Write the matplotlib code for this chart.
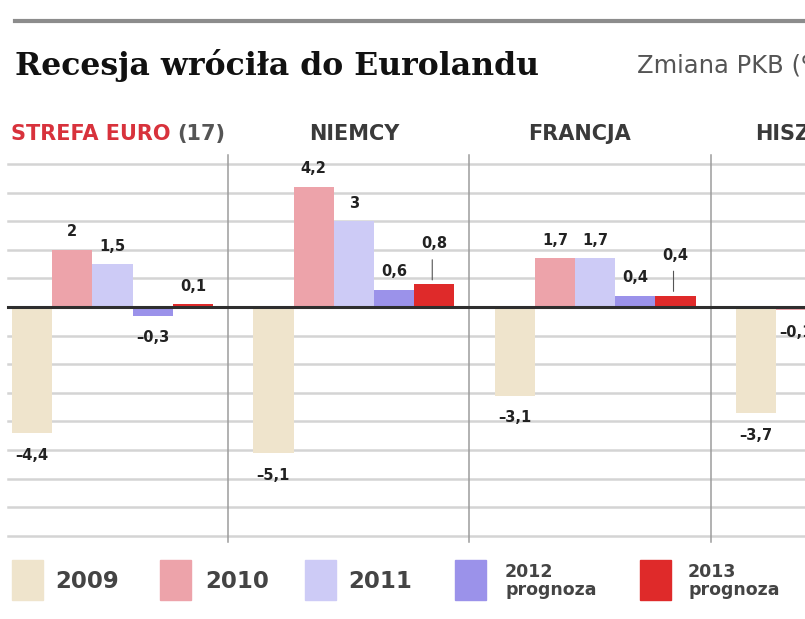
import matplotlib.pyplot as plt
import numpy as np
from matplotlib.patches import Rectangle

# data: GDP change, %, by year, for each panel
panels = ['STREFA EURO', 'NIEMCY', 'FRANCJA', 'HISZPANIA']
years = ['2009', '2010', '2011', '2012\nprognoza', '2013\nprognoza']
strefa_euro = [-4.4, 2.0, 1.5, -0.3, 0.1]
niemcy = [-5.1, 4.2, 3.0, 0.6, 0.8]
francja = [-3.1, 1.7, 1.7, 0.4, 0.4]
hiszpania = [-3.7, -0.1, np.nan, np.nan, np.nan]
values = [strefa_euro, niemcy, francja, hiszpania]

colors = ['#efe4cc', '#eda3aa', '#cdcbf6', '#9b92ea', '#df2a2a']

fig = plt.figure(figsize=(8.05, 6.19), dpi=100)
W, H = 805, 619

# header
fig.add_artist(plt.Line2D([15 / W, 1], [1 - 21 / H] * 2, color='#8c8c8c', lw=3))
fig.text(15 / W, 1 - 65 / H, 'Recesja wróciła do Eurolandu', family='DejaVu Serif',
         weight='bold', fontsize=22.7, va='center', ha='left', color='#111111')
fig.text(637 / W, 1 - 65 / H, 'Zmiana PKB (%)', fontsize=17.5, va='center', ha='left',
         color='#555555')

ax = fig.add_axes([0, (H - 545) / H, 1, (545 - 150) / H])
ax.set_xlim(-0.3, 19.72)
ax.set_ylim(-8.32, 5.49)
ax.axis('off')

for g in range(-8, 6):
    if g != 0:
        ax.plot([-0.1, 20], [g, g], color='#d4d4d4', lw=1.8, zorder=1)
for i in range(len(panels)):
    ax.plot([6 * i + 5.37] * 2, [-8.2, 5.3], color='#9c9c9c', lw=1.1, zorder=1)

for i, vals in enumerate(values):
    for j, v in enumerate(vals):
        if np.isnan(v):
            continue
        x = 6 * i + j
        ax.bar(x, v, width=1.0, align='edge', color=colors[j], zorder=2)
        lab = f'{v:.1f}'.replace('.', ',') if v != int(v) else f'{int(v)}'
        lab = lab.replace('-', '–')
        if j == 4 and i in (1, 2):
            ax.annotate(lab, (x + 0.5, v), xytext=(0, 29), textcoords='offset points',
                        ha='center', va='center', fontsize=10.5, weight='bold', color='#222222')
            ax.annotate('', (x + 0.45, v + 0.05), xytext=(x + 0.45, v + 0.95),
                        arrowprops=dict(arrowstyle='-', color='#555555', lw=0.8))
        else:
            off = 13 if v >= 0 else -16
            ax.annotate(lab, (x + 0.5, v), xytext=(0, off), textcoords='offset points',
                        ha='center', va='center', fontsize=10.5, weight='bold', color='#222222')

ax.plot([-0.1, 20], [0, 0], color='#2e2e2e', lw=2.2, zorder=3)

# panel titles
ty = 5.49 + (150 - 134) / 28.6
ax.text(3.95, ty, 'STREFA EURO', ha='right', va='center', fontsize=15,
        weight='bold', color='#d8323c')
ax.text(4.11, ty, '(17)', ha='left', va='center', fontsize=15,
        weight='bold', color='#555555')
title_shift = [0, 2.5, 2.12, 2.05]
for i in range(1, len(panels)):
    ax.text(6 * i + title_shift[i], ty, panels[i], ha='center', va='center', fontsize=15,
            weight='bold', color='#3a3a3a', clip_on=False)

# legend
sw_x = [12, 160, 305, 455, 640]
tx_x = [55, 205, 348, 505, 688]
for k in range(5):
    fig.add_artist(Rectangle((sw_x[k] / W, 1 - 600 / H), 31 / W, 40 / H,
                             color=colors[k], transform=fig.transFigure))
    if '\n' in years[k]:
        fig.text(tx_x[k] / W, 1 - 581 / H, years[k], fontsize=12.5, va='center',
                 ha='left', color='#444444', weight='bold', linespacing=0.95)
    else:
        fig.text(tx_x[k] / W, 1 - 582 / H, years[k], fontsize=16.5, va='center',
                 ha='left', color='#444444', weight='bold')

fig.savefig('out.png', dpi=100)
